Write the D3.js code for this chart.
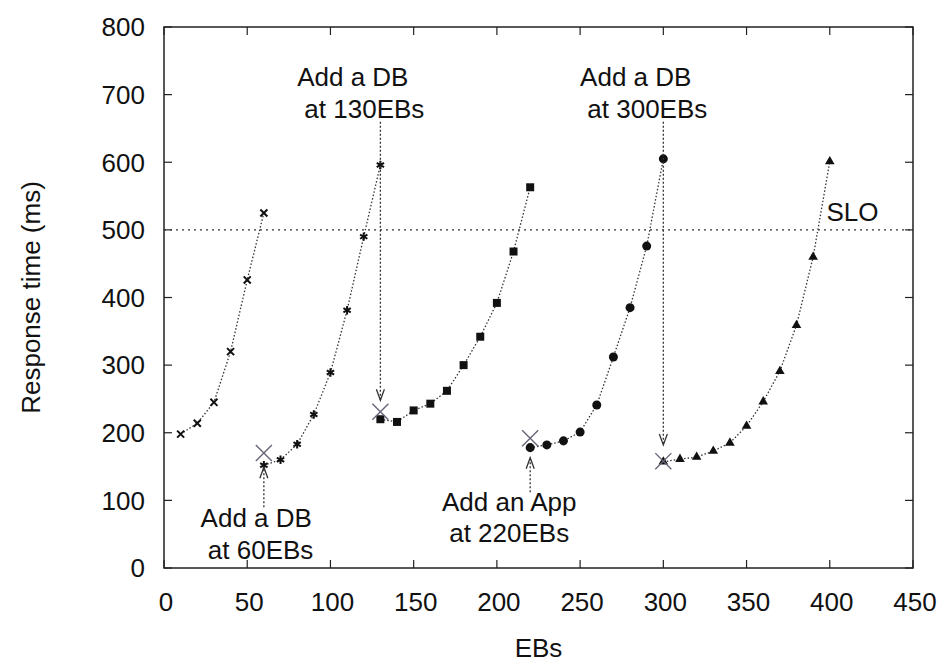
<!DOCTYPE html>
<html>
<head>
<meta charset="utf-8">
<script src="https://cdn.jsdelivr.net/npm/d3@7"></script>
<style>
  body { margin: 0; background: #fff; }
  svg text { font-family: "Liberation Sans", Arial, sans-serif; fill: #111; }
</style>
</head>
<body>
<svg id="chart" width="951" height="665"></svg>
<script>
// ====== Data ======
const X_TICKS = [0, 50, 100, 150, 200, 250, 300, 350, 400, 450];
const Y_TICKS = [0, 100, 200, 300, 400, 500, 600, 700, 800];

// one run per configuration, x = EBs, y = response time (ms)
const EBS_1 = [10, 20, 30, 40, 50, 60];
const RT_1  = [198, 214, 245, 320, 426, 525];
const EBS_2 = [60, 70, 80, 90, 100, 110, 120, 130];
const RT_2  = [152, 160, 183, 227, 289, 381, 490, 596];
const EBS_3 = [130, 140, 150, 160, 170, 180, 190, 200, 210, 220];
const RT_3  = [220, 216, 233, 243, 262, 300, 342, 392, 468, 563];
const EBS_4 = [220, 230, 240, 250, 260, 270, 280, 290, 300];
const RT_4  = [178, 182, 188, 201, 241, 312, 385, 476, 605];
const EBS_5 = [300, 310, 320, 330, 340, 350, 360, 370, 380, 390, 400];
const RT_5  = [157, 161, 164, 173, 185, 210, 246, 291, 359, 460, 601];

// SLO line
const SLO = 500;
const SLO_MARKS = [0, 30, 60, 90, 120, 150, 180, 210, 240, 270, 300, 330, 360, 390, 420];

// reconfiguration points (big X) and arrows
const CHANGE_X  = [60, 130, 220, 300];
const CHANGE_RT = [170, 231, 192, 158];
const ARROW_X    = [60, 130, 220, 300];
const ARROW_FROM = [90, 660, 112, 660];
const ARROW_TO   = [149, 248, 163, 182];
const NOTE_LINE1 = ["Add a DB", "Add a DB", "Add an App", "Add a DB"];
const NOTE_LINE2 = [" at 60EBs", " at 130EBs", " at 220EBs", " at 300EBs"];
const NOTE_X     = [22, 80, 167, 250];   // EBs where the text starts
const NOTE_Y     = [74, 726, 98, 726];   // ms, first line centre

// ====== Layout ======
const svg = d3.select("#chart");
const margin = { left: 164, right: 38, top: 27, bottom: 97 };
const W = 951, H = 665;
const x = d3.scaleLinear().domain([0, 450]).range([margin.left, W - margin.right]);
const y = d3.scaleLinear().domain([0, 800]).range([H - margin.bottom, margin.top]);

const FONT = 26;
const dark = "#222";

// frame
svg.append("rect")
  .attr("x", x(0)).attr("y", y(800))
  .attr("width", x(450) - x(0)).attr("height", y(0) - y(800))
  .attr("fill", "none").attr("stroke", dark).attr("stroke-width", 1.5);

// ticks (inside, mirrored)
const TL = 8;
const ticks = svg.append("g").attr("stroke", dark).attr("stroke-width", 1.2);
X_TICKS.forEach(t => {
  ticks.append("line").attr("x1", x(t)).attr("x2", x(t)).attr("y1", y(0)).attr("y2", y(0) - TL);
  ticks.append("line").attr("x1", x(t)).attr("x2", x(t)).attr("y1", y(800)).attr("y2", y(800) + TL);
});
Y_TICKS.forEach(t => {
  ticks.append("line").attr("y1", y(t)).attr("y2", y(t)).attr("x1", x(0)).attr("x2", x(0) + TL);
  ticks.append("line").attr("y1", y(t)).attr("y2", y(t)).attr("x1", x(450)).attr("x2", x(450) - TL);
});

// tick labels
svg.append("g").selectAll("text").data(X_TICKS).join("text")
  .attr("x", d => x(d) + 2).attr("y", y(0) + 43)
  .attr("text-anchor", "middle").attr("font-size", FONT)
  .text(d => d);
svg.append("g").selectAll("text").data(Y_TICKS).join("text")
  .attr("x", x(0) - 19).attr("y", d => y(d)).attr("dy", "0.36em")
  .attr("text-anchor", "end").attr("font-size", FONT)
  .text(d => d);

// axis titles
svg.append("text")
  .attr("x", (x(0) + x(450)) / 2).attr("y", 657)
  .attr("text-anchor", "middle").attr("font-size", FONT)
  .text("EBs");
svg.append("text")
  .attr("transform", `translate(40,${(y(0) + y(800)) / 2}) rotate(-90)`)
  .attr("text-anchor", "middle").attr("font-size", FONT)
  .text("Response time (ms)");

// ====== SLO line ======
svg.append("line")
  .attr("x1", x(0)).attr("x2", x(450)).attr("y1", y(SLO)).attr("y2", y(SLO))
  .attr("stroke", "#333").attr("stroke-width", 1.2).attr("stroke-dasharray", "2,4");
svg.append("g").selectAll("path").data(SLO_MARKS).join("path")
  .attr("transform", d => `translate(${x(d)},${y(SLO)})`)
  .attr("d", d3.symbol(d3.symbolPlus, 50)())
  .attr("fill", "#666");
svg.append("text")
  .attr("x", x(398)).attr("y", y(SLO) - 18).attr("dy", "0.36em")
  .attr("font-size", FONT).text("SLO");

// ====== Series ======
const line = d3.line().x(d => x(d[0])).y(d => y(d[1]));
const series = [
  { xs: EBS_1, ys: RT_1, sym: d3.symbolX, size: 34, fill: false },
  { xs: EBS_2, ys: RT_2, sym: d3.symbolAsterisk, size: 50, fill: false },
  { xs: EBS_3, ys: RT_3, sym: d3.symbolSquare, size: 64, fill: true },
  { xs: EBS_4, ys: RT_4, sym: d3.symbolCircle, size: 64, fill: true },
  { xs: EBS_5, ys: RT_5, sym: d3.symbolTriangle, size: 40, fill: true }
];
series.forEach(s => {
  const pts = s.xs.map((v, i) => [v, s.ys[i]]);
  svg.append("path").datum(pts)
    .attr("d", line)
    .attr("fill", "none").attr("stroke", "#333").attr("stroke-width", 1.3)
    .attr("stroke-dasharray", "1.5,2");
  const m = svg.append("g").selectAll("path").data(pts).join("path")
    .attr("transform", d => `translate(${x(d[0])},${y(d[1])})`)
    .attr("d", d3.symbol(s.sym, s.size)());
  if (s.fill) m.attr("fill", "#111");
  else m.attr("fill", "none").attr("stroke", "#111").attr("stroke-width", 2);
});

// ====== Reconfiguration markers and notes ======
svg.append("g").selectAll("path").data(CHANGE_X).join("path")
  .attr("transform", (d, i) => `translate(${x(d)},${y(CHANGE_RT[i])})`)
  .attr("d", d3.symbol(d3.symbolX, 170)())
  .attr("fill", "none").attr("stroke", "#667").attr("stroke-width", 1.4);

const arrows = svg.append("g").attr("stroke", "#333").attr("stroke-width", 1.3).attr("fill", "none");
ARROW_X.forEach((ax, i) => {
  const x0 = x(ax), y0 = y(ARROW_FROM[i]), y1 = y(ARROW_TO[i]);
  arrows.append("line").attr("x1", x0).attr("x2", x0).attr("y1", y0).attr("y2", y1)
    .attr("stroke-dasharray", "2,2");
  const dir = y1 > y0 ? -1 : 1;
  arrows.append("path")
    .attr("d", `M${x0 - 4},${y1 + dir * 11}L${x0},${y1}L${x0 + 4},${y1 + dir * 11}`);
});

NOTE_LINE1.forEach((t, i) => {
  const tx = svg.append("text")
    .attr("x", x(NOTE_X[i])).attr("y", y(NOTE_Y[i]))
    .attr("font-size", FONT).attr("xml:space", "preserve")
    .style("white-space", "pre");
  tx.append("tspan").attr("x", x(NOTE_X[i])).attr("dy", "0.36em").text(t);
  tx.append("tspan").attr("x", x(NOTE_X[i])).attr("dy", "1.2em").text(NOTE_LINE2[i]);
});
</script>
</body>
</html>
